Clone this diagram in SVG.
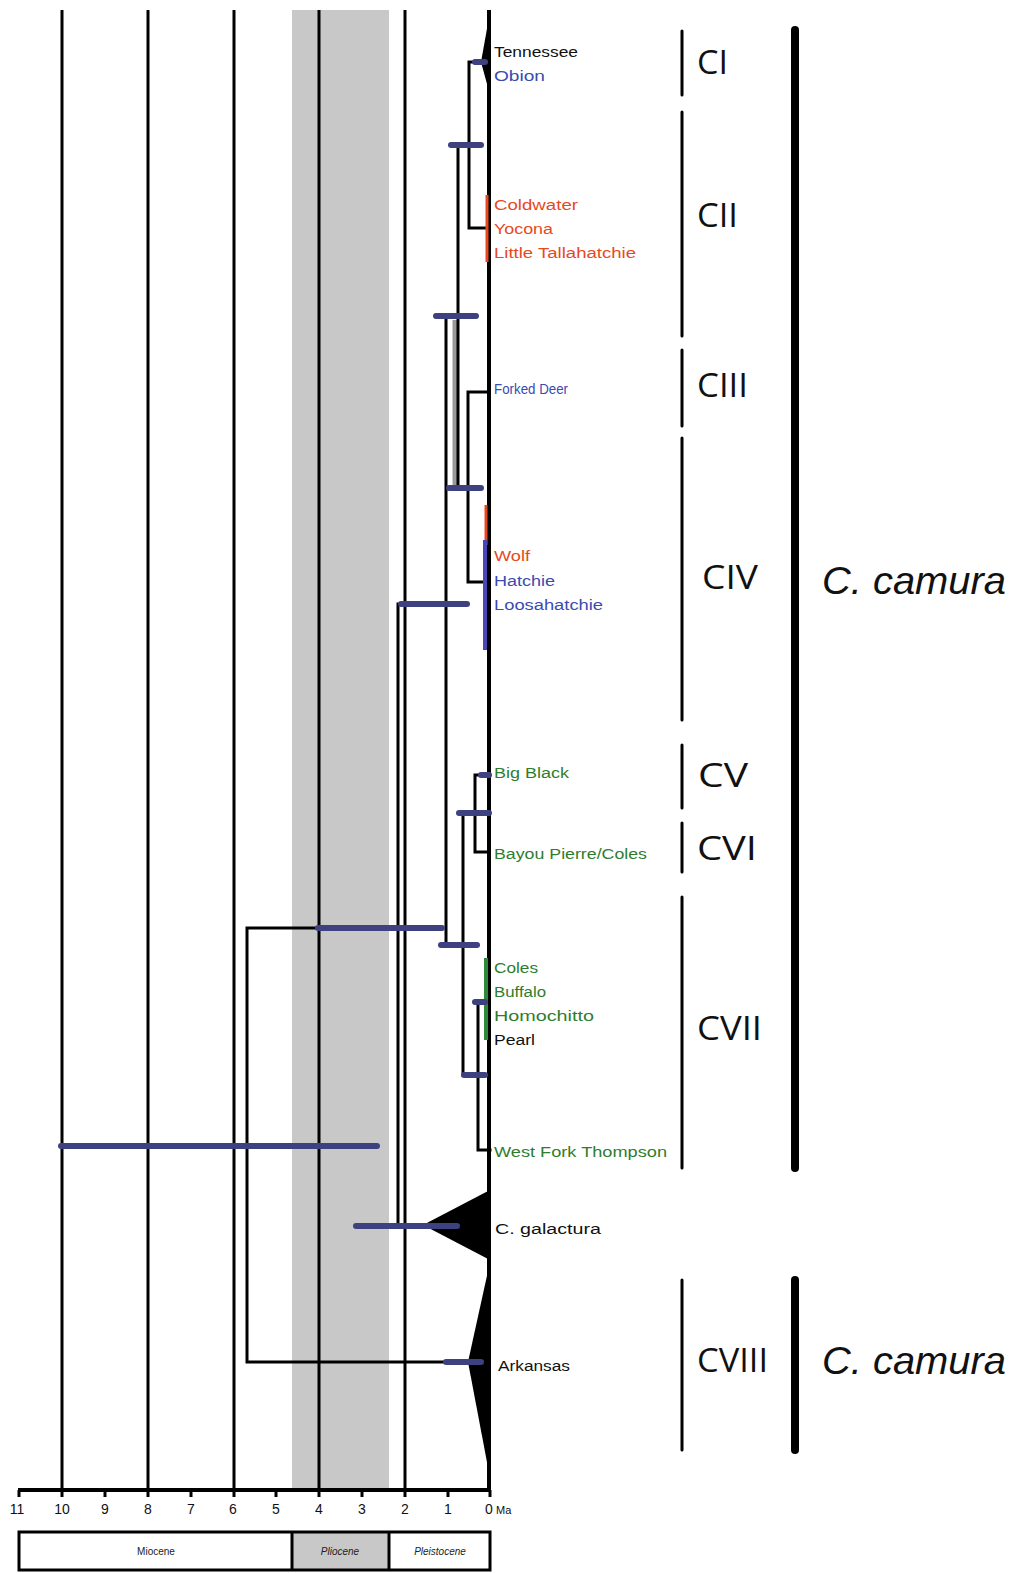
<svg xmlns="http://www.w3.org/2000/svg" width="1010" height="1573" viewBox="0 0 1010 1573">
<style>
.grid{stroke:#000;stroke-width:3}
.br{stroke:#000;stroke-width:3;fill:none;stroke-linecap:square}
.eb{stroke:#3e4180;stroke-width:6;stroke-linecap:round}
.tip{font-family:"Liberation Sans",Arial,sans-serif;font-size:14px}
.k{fill:#111}.b{fill:#3a4bb0}.r{fill:#e8481e}.g{fill:#2e7d2e}
.clab{font-family:"Open Sans","Liberation Sans",sans-serif;font-size:32px;fill:#111}
.sp{font-family:"Liberation Sans",Arial,sans-serif;font-size:38px;font-style:italic;fill:#111}
.ax{font-family:"Liberation Sans",Arial,sans-serif;font-size:14px;fill:#111;text-anchor:middle}
.ep{font-family:"Liberation Sans",Arial,sans-serif;font-size:10px;fill:#222;text-anchor:middle}
.cbar{stroke:#000;stroke-width:3;stroke-linecap:round}
.sbar{stroke:#000;stroke-width:8;stroke-linecap:round}
</style>
<rect width="1010" height="1573" fill="#fff"/>
<g id="background">
<rect x="292" y="10" width="97" height="1480" fill="#c8c8c8"/>
<line class="grid" x1="62" y1="10" x2="62" y2="1490"/>
<line class="grid" x1="148" y1="10" x2="148" y2="1490"/>
<line class="grid" x1="234" y1="10" x2="234" y2="1490"/>
<line class="grid" x1="319" y1="10" x2="319" y2="1490"/>
<line class="grid" x1="405" y1="10" x2="405" y2="1490"/>
<line x1="489" y1="10" x2="489" y2="1490" stroke="#000" stroke-width="4"/>
</g>
<g id="axis">
<line x1="18" y1="1490" x2="491" y2="1490" stroke="#000" stroke-width="4"/>
<g stroke="#000" stroke-width="3">
<line x1="19" y1="1490" x2="19" y2="1497"/><line x1="62" y1="1490" x2="62" y2="1497"/><line x1="105" y1="1490" x2="105" y2="1497"/><line x1="148" y1="1490" x2="148" y2="1497"/><line x1="191" y1="1490" x2="191" y2="1497"/><line x1="234" y1="1490" x2="234" y2="1497"/><line x1="276" y1="1490" x2="276" y2="1497"/><line x1="319" y1="1490" x2="319" y2="1497"/><line x1="362" y1="1490" x2="362" y2="1497"/><line x1="405" y1="1490" x2="405" y2="1497"/><line x1="448" y1="1490" x2="448" y2="1497"/><line x1="490" y1="1490" x2="490" y2="1497"/>
</g>
<text class="ax" x="17" y="1514">11</text><text class="ax" x="62" y="1514">10</text><text class="ax" x="105" y="1514">9</text><text class="ax" x="148" y="1514">8</text><text class="ax" x="191" y="1514">7</text><text class="ax" x="233" y="1514">6</text><text class="ax" x="276" y="1514">5</text><text class="ax" x="319" y="1514">4</text><text class="ax" x="362" y="1514">3</text><text class="ax" x="405" y="1514">2</text><text class="ax" x="448" y="1514">1</text><text class="ax" x="489" y="1514">0</text>
<text x="496" y="1514" font-family="Liberation Sans, sans-serif" font-size="11" fill="#111">Ma</text>
</g>
<g id="epochs">
<rect x="292" y="1532" width="97" height="38" fill="#c8c8c8"/>
<rect x="19" y="1532" width="471" height="38" fill="none" stroke="#000" stroke-width="3"/>
<line x1="292" y1="1532" x2="292" y2="1570" stroke="#000" stroke-width="3"/>
<line x1="389" y1="1532" x2="389" y2="1570" stroke="#000" stroke-width="3"/>
<text class="ep" x="156" y="1555">Miocene</text>
<text class="ep" x="340" y="1555" font-style="italic">Pliocene</text>
<text class="ep" x="440" y="1555" font-style="italic">Pleistocene</text>
</g>
<g id="connectors">
<line x1="455" y1="320" x2="455" y2="486" stroke="#9a9a9a" stroke-width="5"/>
<path class="br" d="M482 62 H469 V228 H488"/>
<path class="br" d="M469 145 H458 V488 H468"/>
<path class="br" d="M488 392 H468 V582 H486"/>
<path class="br" d="M458 316 H446 V945 H463"/>
<path class="br" d="M488 775 H475 V852 H488"/>
<path class="br" d="M475 813 H463 V1075 H478"/>
<path class="br" d="M486 1002 H478 V1150 H490"/>
<path class="br" d="M446 604 H398 V1225 H425"/>
<path class="br" d="M398 928 H247 V1362 H470"/>
</g>
<g id="clades">
<polygon points="481,62 490,12 490,95" fill="#000"/>
<polygon points="423,1225 490,1190 490,1260" fill="#000"/>
<polygon points="468,1362 490,1262 490,1478" fill="#000"/>
<line x1="487" y1="195" x2="487" y2="262" stroke="#e8481e" stroke-width="3"/>
<line x1="486" y1="505" x2="486" y2="545" stroke="#e8481e" stroke-width="3"/>
<line x1="485" y1="540" x2="485" y2="650" stroke="#4a46b8" stroke-width="4"/>
<line x1="486" y1="958" x2="486" y2="1040" stroke="#2e8a3a" stroke-width="4"/>
</g>
<g id="errorbars">
<line class="eb" x1="475" y1="62" x2="485" y2="62"/>
<line class="eb" x1="451" y1="145" x2="481" y2="145"/>
<line class="eb" x1="436" y1="316" x2="476" y2="316"/>
<line class="eb" x1="449" y1="488" x2="481" y2="488"/>
<line class="eb" x1="401" y1="604" x2="467" y2="604"/>
<line class="eb" x1="481" y1="775" x2="489" y2="775"/>
<line class="eb" x1="459" y1="813" x2="489" y2="813"/>
<line class="eb" x1="441" y1="945" x2="477" y2="945"/>
<line class="eb" x1="475" y1="1002" x2="485" y2="1002"/>
<line class="eb" x1="464" y1="1075" x2="485" y2="1075"/>
<line class="eb" x1="318" y1="928" x2="442" y2="928"/>
<line class="eb" x1="61" y1="1146" x2="377" y2="1146" stroke="#4a4e8e"/>
<line class="eb" x1="356" y1="1226" x2="425" y2="1226"/>
<line class="eb" x1="425" y1="1226" x2="457" y2="1226" stroke="#8a8ac8"/>
<line class="eb" x1="446" y1="1362" x2="481" y2="1362"/>
</g>
<g id="tips">
<text class="tip k" x="494" y="57" textLength="84" lengthAdjust="spacingAndGlyphs">Tennessee</text>
<text class="tip b" x="494" y="81" textLength="51" lengthAdjust="spacingAndGlyphs">Obion</text>
<text class="tip r" x="494" y="210" textLength="84" lengthAdjust="spacingAndGlyphs">Coldwater</text>
<text class="tip r" x="494" y="234" textLength="59" lengthAdjust="spacingAndGlyphs">Yocona</text>
<text class="tip r" x="494" y="258" textLength="142" lengthAdjust="spacingAndGlyphs">Little Tallahatchie</text>
<text class="tip b" x="494" y="394" textLength="74" lengthAdjust="spacingAndGlyphs">Forked Deer</text>
<text class="tip r" x="494" y="561" textLength="36" lengthAdjust="spacingAndGlyphs">Wolf</text>
<text class="tip b" x="494" y="586" textLength="61" lengthAdjust="spacingAndGlyphs">Hatchie</text>
<text class="tip b" x="494" y="610" textLength="109" lengthAdjust="spacingAndGlyphs">Loosahatchie</text>
<text class="tip g" x="494" y="778" textLength="75" lengthAdjust="spacingAndGlyphs">Big Black</text>
<text class="tip g" x="494" y="859" textLength="153" lengthAdjust="spacingAndGlyphs">Bayou Pierre/Coles</text>
<text class="tip g" x="494" y="973" textLength="44" lengthAdjust="spacingAndGlyphs">Coles</text>
<text class="tip g" x="494" y="997" textLength="52" lengthAdjust="spacingAndGlyphs">Buffalo</text>
<text class="tip g" x="494" y="1021" textLength="100" lengthAdjust="spacingAndGlyphs">Homochitto</text>
<text class="tip k" x="494" y="1045" textLength="41" lengthAdjust="spacingAndGlyphs">Pearl</text>
<text class="tip g" x="494" y="1157" textLength="173" lengthAdjust="spacingAndGlyphs">West Fork Thompson</text>
<text class="tip k" x="495" y="1234" textLength="106" lengthAdjust="spacingAndGlyphs">C. galactura</text>
<text class="tip k" x="498" y="1371" textLength="72" lengthAdjust="spacingAndGlyphs">Arkansas</text>
</g>
<g id="clade-bars">
<line class="cbar" x1="682" y1="31" x2="682" y2="95"/>
<line class="cbar" x1="682" y1="112" x2="682" y2="336"/>
<line class="cbar" x1="682" y1="350" x2="682" y2="426"/>
<line class="cbar" x1="682" y1="438" x2="682" y2="720"/>
<line class="cbar" x1="682" y1="745" x2="682" y2="808"/>
<line class="cbar" x1="682" y1="823" x2="682" y2="872"/>
<line class="cbar" x1="682" y1="897" x2="682" y2="1168"/>
<line class="cbar" x1="682" y1="1280" x2="682" y2="1450"/>
<text class="clab" x="697" y="74" textLength="31" lengthAdjust="spacingAndGlyphs">CI</text>
<text class="clab" x="697" y="227" textLength="41" lengthAdjust="spacingAndGlyphs">CII</text>
<text class="clab" x="697" y="397" textLength="51" lengthAdjust="spacingAndGlyphs">CIII</text>
<text class="clab" x="702" y="589" textLength="56" lengthAdjust="spacingAndGlyphs">CIV</text>
<text class="clab" x="698" y="787" textLength="50" lengthAdjust="spacingAndGlyphs">CV</text>
<text class="clab" x="697" y="860" textLength="60" lengthAdjust="spacingAndGlyphs">CVI</text>
<text class="clab" x="697" y="1040" textLength="65" lengthAdjust="spacingAndGlyphs">CVII</text>
<text class="clab" x="697" y="1372" textLength="71" lengthAdjust="spacingAndGlyphs">CVIII</text>
</g>
<g id="species">
<line class="sbar" x1="795" y1="30" x2="795" y2="1168"/>
<line class="sbar" x1="795" y1="1280" x2="795" y2="1450"/>
<text class="sp" x="822" y="594" textLength="184" lengthAdjust="spacingAndGlyphs">C. camura</text>
<text class="sp" x="822" y="1374" textLength="184" lengthAdjust="spacingAndGlyphs">C. camura</text>
</g>
</svg>
